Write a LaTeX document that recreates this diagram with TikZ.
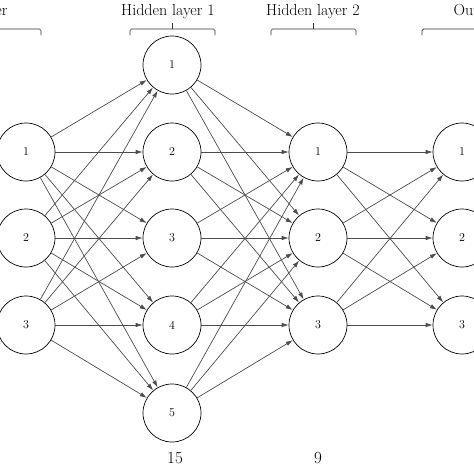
\documentclass[tikz,border=0pt]{standalone}
\usetikzlibrary{arrows.meta}
\begin{document}
\begin{tikzpicture}[x=1pt,y=-1pt,
    neuron/.style={draw, circle, minimum size=58pt, inner sep=0pt, line width=0.7pt, font=\fontsize{12}{14}\selectfont},
    conn/.style={-{Latex[length=7pt,width=4.5pt]}, line width=0.7pt, black!70},
    brace/.style={line width=0.7pt, black!80, rounded corners=1.5pt},
    layername/.style={font=\fontsize{16}{18}\selectfont},
    count/.style={font=\fontsize{17}{19}\selectfont}]
        \useasboundingbox (0,0) rectangle (474,474);
        \clip (0,0) rectangle (474,474);
        % neurons
        \foreach \i/\y in {1/152,2/238,3/325} {
            \node[neuron] (in\i) at (26,\y) {\i};
            \node[neuron] (hb\i) at (318,\y) {\i};
            \node[neuron] (out\i) at (462,\y) {\i};
        }
        \foreach \i/\y in {1/65,2/152,3/238,4/325,5/413}
            \node[neuron] (ha\i) at (172,\y) {\i};
        % connections
        \foreach \i in {1,2,3}
            \foreach \j in {1,...,5} {
                \draw[conn] (in\i) -- (ha\j);
                \draw[conn] (ha\j) -- (hb\i);
            }
        \foreach \i in {1,2,3}
            \foreach \j in {1,2,3}
                \draw[conn] (hb\i) -- (out\j);
        % layer names and braces
        \node[layername, anchor=east] (inname) at (11,12) {Input layer};
        \node[layername] (haname) at (168,12) {Hidden layer 1};
        \node[layername] (hbname) at (313,12) {Hidden layer 2};
        \node[layername, anchor=west] (outname) at (450,12) {Output layer};
        \draw[brace] (-45,35) -- (-45,29) -- (41,29) -- (41,35);
        \draw[brace] (130,35) -- (130,29) -- (215,29) -- (215,35);
        \draw[brace] (172,29) -- (172,23);
        \draw[brace] (271,35) -- (271,29) -- (356,29) -- (356,35);
        \draw[brace] (313,29) -- (313,23);
        \draw[brace] (422,35) -- (422,29) -- (508,29) -- (508,35);
        % neuron counts
        \node[count] (hacount) at (175,458) {15};
        \node[count] (hbcount) at (318,458) {9};
\end{tikzpicture}
\end{document}
